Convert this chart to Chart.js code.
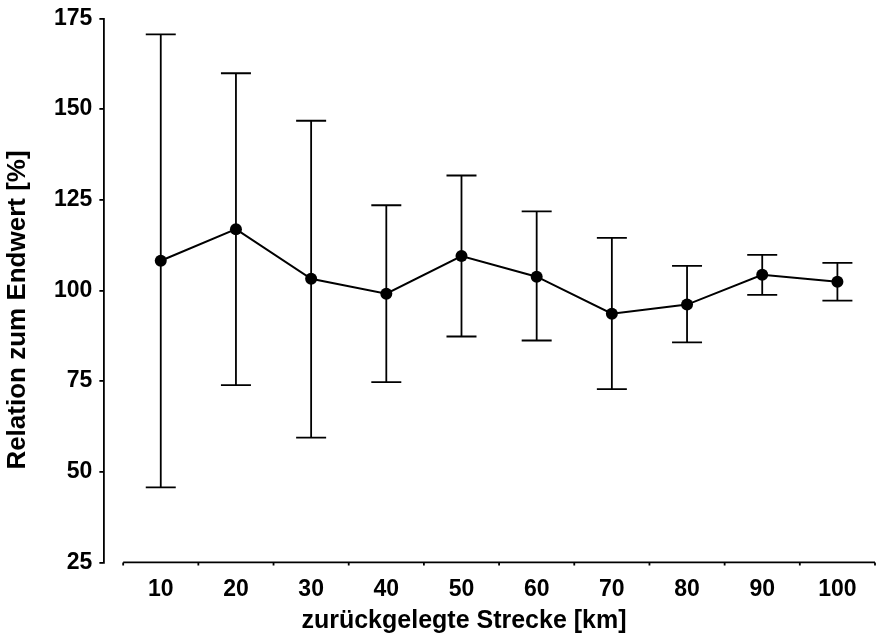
<!DOCTYPE html>
<html>
<head>
<meta charset="utf-8">
<script src="https://cdn.jsdelivr.net/npm/chart.js@4.4.1/dist/chart.umd.min.js"></script>
<style>
  html, body { margin: 0; padding: 0; background: #fff; }
</style>
</head>
<body>
<canvas id="chart" width="881" height="643"></canvas>
<script>
// data
const distances = [10, 20, 30, 40, 50, 60, 70, 80, 90, 100];
const meanValues = [108.2, 116.9, 103.2, 99.1, 109.5, 103.8, 93.6, 96.1, 104.3, 102.4];
const upperValues = [170.6, 159.9, 146.8, 123.5, 131.7, 121.8, 114.5, 106.8, 109.8, 107.6];
const lowerValues = [45.7, 73.9, 59.4, 74.7, 87.3, 86.2, 72.8, 85.7, 98.8, 97.2];
const yTicks = [25, 50, 75, 100, 125, 150, 175];

const xTitle = "zurückgelegte Strecke [km]";
const yTitle = "Relation zum Endwert [%]";
const FONT = "'Liberation Sans', Arial, sans-serif";

// error bars drawn under the points
const errorBars = {
  id: "errorBars",
  beforeDatasetsDraw(chart) {
    const { ctx, scales: { x, y } } = chart;
    ctx.save();
    ctx.strokeStyle = "#000";
    ctx.lineWidth = 1.8;
    distances.forEach((d, i) => {
      const px = x.getPixelForValue(d);
      const top = y.getPixelForValue(upperValues[i]);
      const bot = y.getPixelForValue(lowerValues[i]);
      ctx.beginPath();
      ctx.moveTo(px, top);
      ctx.lineTo(px, bot);
      ctx.moveTo(px - 15, top);
      ctx.lineTo(px + 15, top);
      ctx.moveTo(px - 15, bot);
      ctx.lineTo(px + 15, bot);
      ctx.stroke();
    });
    ctx.restore();
  },
};

// detached x axis line, tick marks between categories, axis titles
const axisDecor = {
  id: "axisDecor",
  afterDraw(chart) {
    const { ctx, chartArea, scales: { x } } = chart;
    const bounds = distances.map((d) => d - 5).concat(distances[distances.length - 1] + 5);
    ctx.save();
    ctx.strokeStyle = "#000";
    ctx.lineWidth = 1.8;
    ctx.beginPath();
    ctx.moveTo(x.getPixelForValue(bounds[0]), chartArea.bottom);
    ctx.lineTo(x.getPixelForValue(bounds[bounds.length - 1]), chartArea.bottom);
    bounds.forEach((b) => {
      const px = x.getPixelForValue(b);
      ctx.moveTo(px, chartArea.bottom);
      ctx.lineTo(px, chartArea.bottom + 3);
    });
    ctx.stroke();

    ctx.fillStyle = "#000";
    ctx.textAlign = "center";
    ctx.textBaseline = "middle";
    ctx.font = "bold 25px " + FONT;
    ctx.fillText(xTitle, 464, 621);

    ctx.translate(18, 310);
    ctx.rotate(-Math.PI / 2);
    ctx.font = "bold 26px " + FONT;
    ctx.fillText(yTitle, 0, 0);
    ctx.restore();
  },
};

new Chart(document.getElementById("chart"), {
  type: "line",
  data: {
    datasets: [
      {
        data: distances.map((d, i) => ({ x: d, y: meanValues[i] })),
        borderColor: "#000",
        borderWidth: 2,
        backgroundColor: "#000",
        pointRadius: 6,
        pointBackgroundColor: "#000",
        pointBorderWidth: 0,
        tension: 0,
      },
    ],
  },
  options: {
    responsive: false,
    animation: false,
    layout: { padding: { left: 47, right: 4, top: 10, bottom: 35 } },
    plugins: {
      legend: { display: false },
      tooltip: { enabled: false },
    },
    scales: {
      x: {
        type: "linear",
        min: 2.5,
        max: 105,
        afterBuildTicks: (scale) => {
          scale.ticks = distances.map((v) => ({ value: v }));
        },
        grid: { display: false },
        border: { display: false },
        ticks: {
          color: "#000",
          font: { family: FONT, size: 23, weight: "bold" },
          padding: 5,
          autoSkip: false,
          maxRotation: 0,
        },
      },
      y: {
        min: 25,
        max: 175,
        afterBuildTicks: (scale) => {
          scale.ticks = yTicks.map((v) => ({ value: v }));
        },
        grid: {
          drawOnChartArea: false,
          drawTicks: true,
          tickLength: 5,
          color: "#000",
          lineWidth: 1.8,
        },
        border: { color: "#000", width: 1.8 },
        ticks: {
          color: "#000",
          font: { family: FONT, size: 23, weight: "bold", lineHeight: 1 },
          padding: 7,
        },
      },
    },
  },
  plugins: [errorBars, axisDecor],
});
</script>
</body>
</html>
